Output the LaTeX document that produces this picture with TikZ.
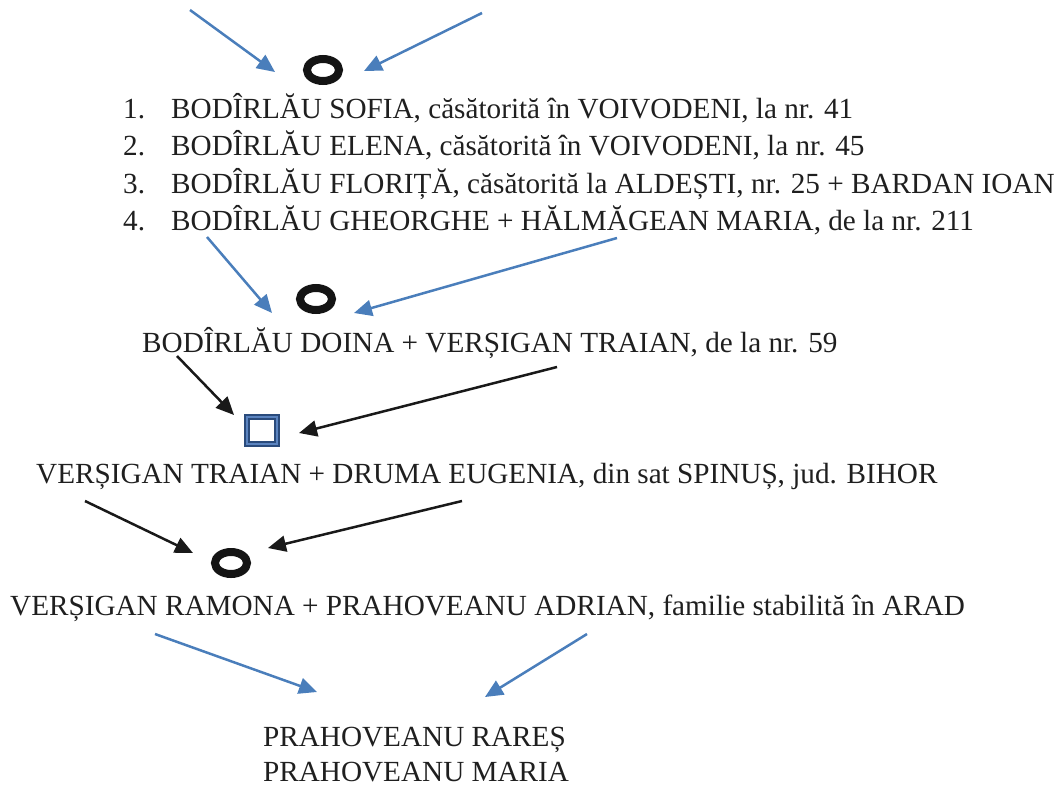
\documentclass[tikz,border=0pt]{standalone}
\usepackage{fontspec}
\setmainfont{Liberation Serif}
\usetikzlibrary{arrows.meta,shapes.geometric}
\definecolor{arrowblue}{HTML}{4A7EBB}
\definecolor{navy}{HTML}{2A4B7C}
\definecolor{midblue}{HTML}{5B84C0}
\begin{document}
\begin{tikzpicture}[x=1pt,y=-1pt,
  txt/.style={anchor=base west,inner sep=0pt,font=\fontsize{29.2}{34}\selectfont,text=black!88},
  ring/.style={ellipse,draw=black!92,line width=8pt,minimum width=32pt,minimum height=22pt,inner sep=0pt},
  sqbox/.style={rectangle,draw=navy,line width=2pt,double=midblue,double distance=2.2pt,fill=white,minimum width=29.8pt,minimum height=26.8pt,inner sep=0pt},
  blarrow/.style={draw=arrowblue,line width=2.5pt,-{Triangle[length=18pt,width=16pt]}},
  bkarrow/.style={draw=black!90,line width=2.5pt,-{Triangle[length=18pt,width=16pt]}}]
\useasboundingbox (0,0) rectangle (1064,787);

% symbols
\node[ring] (r1) at (323,70) {};
\node[ring] (r2) at (316,299) {};
\node[sqbox] (sq) at (262,430.5) {};
\node[ring] (r3) at (231,563) {};

% list
\node[txt] (n1) at (123,118) {1.};
\node[txt] (l1) at (171,118) {BODÎRLĂU SOFIA, căsătorită în VOIVODENI, la nr. 41};
\node[txt] (n2) at (123,155.5) {2.};
\node[txt] (l2) at (171,155.5) {BODÎRLĂU ELENA, căsătorită în VOIVODENI, la nr. 45};
\node[txt] (n3) at (123,193) {3.};
\node[txt] (l3) at (171,193) {BODÎRLĂU FLORIȚĂ, căsătorită la ALDEȘTI, nr. 25 + BARDAN IOAN};
\node[txt] (n4) at (123,230) {4.};
\node[txt] (l4) at (171,230) {BODÎRLĂU GHEORGHE + HĂLMĂGEAN MARIA, de la nr. 211};

\node[txt] (doina) at (142,352) {BODÎRLĂU DOINA + VERȘIGAN TRAIAN, de la nr. 59};
\node[txt] (traian) at (36,483) {VERȘIGAN TRAIAN + DRUMA EUGENIA, din sat SPINUȘ, jud. BIHOR};
\node[txt] (ramona) at (10,615) {VERȘIGAN RAMONA + PRAHOVEANU ADRIAN, familie stabilită în ARAD};
\node[txt] (rares) at (263,746) {PRAHOVEANU RAREȘ};
\node[txt] (maria) at (263,781) {PRAHOVEANU MARIA};

% arrow ends
\coordinate (a1s) at (190,10);  \coordinate (a1e) at (275,72);
\coordinate (a2s) at (482,13);  \coordinate (a2e) at (364,71);
\coordinate (a3s) at (207,237); \coordinate (a3e) at (272,313);
\coordinate (a4s) at (617,238); \coordinate (a4e) at (354,313);
\coordinate (b1s) at (177,356); \coordinate (b1e) at (234,415);
\coordinate (b2s) at (557,367); \coordinate (b2e) at (299,433);
\coordinate (b3s) at (85,501);  \coordinate (b3e) at (193,553);
\coordinate (b4s) at (462,501); \coordinate (b4e) at (268,548);
\coordinate (c1s) at (155,634); \coordinate (c1e) at (317,692);
\coordinate (c2s) at (587,634); \coordinate (c2e) at (485,697);

\draw[blarrow] (a1s) -- (a1e);
\draw[blarrow] (a2s) -- (a2e);
\draw[blarrow] (a3s) -- (a3e);
\draw[blarrow] (a4s) -- (a4e);
\draw[bkarrow] (b1s) -- (b1e);
\draw[bkarrow] (b2s) -- (b2e);
\draw[bkarrow] (b3s) -- (b3e);
\draw[bkarrow] (b4s) -- (b4e);
\draw[blarrow] (c1s) -- (c1e);
\draw[blarrow] (c2s) -- (c2e);
\end{tikzpicture}
\end{document}
